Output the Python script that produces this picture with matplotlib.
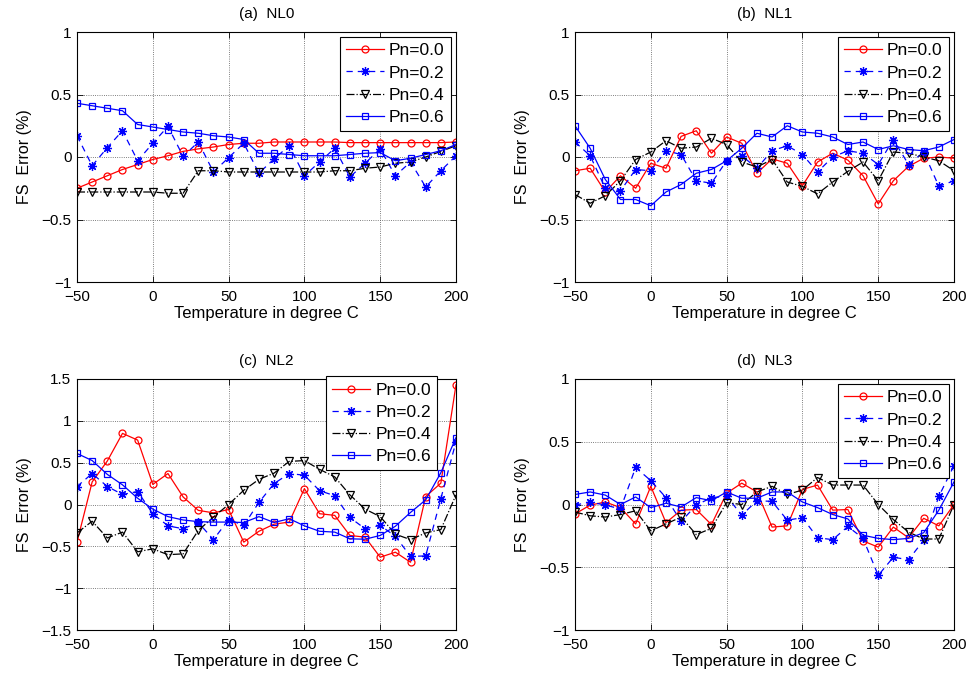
import matplotlib
matplotlib.use("Agg")
import matplotlib.pyplot as plt

plt.rcParams['font.family'] = ['Liberation Sans', 'DejaVu Sans']

# temperature axis
temp = list(range(-50, 201, 10))
labels = ['Pn=0.0', 'Pn=0.2', 'Pn=0.4', 'Pn=0.6']

# (a) NL0
nl0_p00 = [-0.25, -0.20, -0.15, -0.10, -0.06, -0.02, 0.01, 0.045, 0.065, 0.08, 0.10, 0.11, 0.11,
           0.12, 0.12, 0.12, 0.12, 0.12, 0.115, 0.115, 0.115, 0.115, 0.115, 0.115, 0.115, 0.12]
nl0_p02 = [0.17, -0.07, 0.075, 0.21, -0.03, 0.11, 0.245, 0.005, 0.12, -0.12, -0.005, 0.11, -0.13,
           -0.015, 0.09, -0.15, -0.04, 0.07, -0.16, -0.05, 0.065, -0.15, -0.04, -0.24, -0.11, 0.01]
nl0_p04 = [-0.28, -0.28, -0.28, -0.28, -0.28, -0.28, -0.29, -0.29, -0.11, -0.11, -0.12, -0.12, -0.12,
           -0.12, -0.12, -0.12, -0.12, -0.11, -0.11, -0.09, -0.08, -0.05, -0.04, 0.0, 0.045, 0.09]
nl0_p06 = [0.43, 0.41, 0.39, 0.37, 0.26, 0.24, 0.22, 0.20, 0.19, 0.17, 0.16, 0.14, 0.03,
           0.03, 0.02, 0.01, 0.01, 0.01, 0.02, 0.03, 0.035, -0.03, -0.01, 0.02, 0.05, 0.10]

# (b) NL1
nl1_p00 = [-0.11, -0.09, -0.28, -0.15, -0.25, -0.05, -0.09, 0.165, 0.21, 0.03, 0.16, 0.11, -0.13,
           -0.015, -0.05, -0.23, -0.04, 0.03, -0.025, -0.15, -0.375, -0.19, -0.075, -0.01, 0.0, -0.01]
nl1_p02 = [0.12, 0.01, -0.25, -0.27, -0.10, -0.11, 0.05, 0.02, -0.19, -0.21, -0.03, 0.01, -0.09,
           0.05, 0.09, 0.02, -0.12, 0.0, 0.05, 0.03, -0.06, 0.14, -0.06, 0.04, -0.235, -0.19]
nl1_p04 = [-0.30, -0.37, -0.31, -0.19, -0.02, 0.04, 0.13, 0.07, 0.08, 0.15, 0.10, -0.04, -0.08,
           -0.02, -0.20, -0.235, -0.295, -0.20, -0.115, -0.04, -0.19, 0.04, 0.03, 0.0, -0.03, -0.11]
nl1_p06 = [0.25, 0.07, -0.18, -0.34, -0.34, -0.39, -0.28, -0.22, -0.13, -0.10, -0.03, 0.07, 0.19,
           0.16, 0.25, 0.20, 0.19, 0.16, 0.10, 0.12, 0.06, 0.09, 0.06, 0.05, 0.08, 0.14]

# (c) NL2
nl2_p00 = [-0.45, 0.27, 0.52, 0.85, 0.77, 0.24, 0.37, 0.09, -0.07, -0.10, -0.06, -0.45, -0.32,
           -0.235, -0.21, 0.19, -0.11, -0.13, -0.37, -0.39, -0.63, -0.57, -0.69, 0.095, 0.255, 1.43]
nl2_p02 = [0.215, 0.37, 0.215, 0.12, 0.155, -0.11, -0.255, -0.29, -0.215, -0.42, -0.18, -0.25, 0.025,
           0.25, 0.37, 0.35, 0.165, 0.105, -0.155, -0.29, -0.25, -0.38, -0.62, -0.615, 0.07, 0.75]
nl2_p04 = [-0.34, -0.20, -0.40, -0.33, -0.565, -0.53, -0.60, -0.59, -0.31, -0.15, 0.0, 0.17, 0.30,
           0.375, 0.515, 0.525, 0.42, 0.33, 0.115, -0.055, -0.145, -0.355, -0.42, -0.34, -0.30, 0.115]
nl2_p06 = [0.61, 0.525, 0.36, 0.235, 0.075, -0.055, -0.145, -0.185, -0.205, -0.21, -0.21, -0.215, -0.145,
           -0.215, -0.17, -0.255, -0.32, -0.33, -0.41, -0.415, -0.37, -0.26, -0.095, 0.055, 0.38, 0.80]

# (d) NL3
nl3_p00 = [-0.075, -0.005, 0.02, -0.025, -0.155, 0.145, -0.145, -0.045, -0.04, -0.16, 0.09, 0.17, 0.10,
           -0.18, -0.17, 0.12, 0.155, -0.045, -0.04, -0.29, -0.34, -0.18, -0.265, -0.11, -0.17, 0.0]
nl3_p02 = [-0.005, 0.02, -0.005, -0.035, 0.295, 0.19, 0.055, -0.135, -0.005, 0.055, 0.065, -0.085, 0.03,
           0.025, -0.125, -0.105, -0.265, -0.28, -0.175, -0.27, -0.565, -0.42, -0.44, -0.285, 0.065, 0.31]
nl3_p04 = [-0.06, -0.09, -0.10, -0.08, -0.05, -0.21, -0.155, -0.10, -0.24, -0.19, 0.015, 0.0, 0.10,
           0.145, 0.08, 0.115, 0.215, 0.155, 0.155, 0.155, 0.0, -0.12, -0.22, -0.275, -0.275, 0.0]
nl3_p06 = [0.08, 0.10, 0.075, 0.0, 0.06, -0.025, 0.01, -0.02, 0.055, 0.03, 0.10, 0.05, 0.05,
           0.10, 0.10, 0.02, -0.025, -0.08, -0.115, -0.245, -0.27, -0.28, -0.27, -0.225, -0.045, 0.18]

panels = [
    ('(a)  NL0', [nl0_p00, nl0_p02, nl0_p04, nl0_p06], (-1, 1)),
    ('(b)  NL1', [nl1_p00, nl1_p02, nl1_p04, nl1_p06], (-1, 1)),
    ('(c)  NL2', [nl2_p00, nl2_p02, nl2_p04, nl2_p06], (-1.5, 1.5)),
    ('(d)  NL3', [nl3_p00, nl3_p02, nl3_p04, nl3_p06], (-1, 1)),
]

styles = [
    dict(color='red', linestyle='-', marker='o', markersize=5, markerfacecolor='none'),
    dict(color='blue', linestyle=(0, (5, 4)), marker=(8, 2, 0), markersize=6.5),
    dict(color='black', linestyle='-.', marker='v', markersize=5.5, markerfacecolor='none'),
    dict(color='blue', linestyle='-', marker='s', markersize=4.5, markerfacecolor='none'),
]

W, H = 976, 675
fig = plt.figure(figsize=(W / 100, H / 100), dpi=100)

# axes boxes in pixels: left, top, right, bottom
boxes = [(77, 32, 456, 282), (575, 32, 954, 282),
         (77, 379, 456, 630), (575, 379, 954, 630)]

for (title, series, ylim), (l, t, r, b), idx in zip(panels, boxes, range(4)):
    ax = fig.add_axes([l / W, 1 - b / H, (r - l) / W, (b - t) / H])
    for ys, st, lab in zip(series, styles, labels):
        ax.plot(temp, ys, label=lab, linewidth=0.9, markeredgewidth=0.9, **st)
    ax.set_xlim(-50, 200)
    ax.set_ylim(*ylim)
    ax.set_xticks(range(-50, 201, 50))
    if idx == 2:
        ax.set_yticks([-1.5, -1, -0.5, 0, 0.5, 1, 1.5])
        ax.set_yticklabels(['\u22121.5', '\u22121', '\u22120.5', '0', '0.5', '1', '1.5'])
    else:
        ax.set_yticks([-1, -0.5, 0, 0.5, 1])
        ax.set_yticklabels(['\u22121', '\u22120.5', '0', '0.5', '1'])
    ax.set_xticklabels(['\u221250', '0', '50', '100', '150', '200'])
    ax.tick_params(direction='in', top=True, right=True, labelsize=11, length=4, width=0.6)
    ax.tick_params(axis='x', pad=6)
    ax.tick_params(axis='y', pad=4)
    ax.grid(True, linestyle=':', color='#555555', linewidth=0.6)
    for sp in ax.spines.values():
        sp.set_linewidth(0.8)
    ax.set_title(title, fontsize=11, pad=10)
    ax.set_xlabel('Temperature in degree C', fontsize=12, labelpad=1)
    ax.set_ylabel('FS  Error (%)', fontsize=11.5, labelpad=7)
    if idx == 2:
        leg = ax.legend(loc='upper right', bbox_to_anchor=(0.95, 1.01), fontsize=12.5,
                        fancybox=False, edgecolor='black', framealpha=1, handlelength=2.2,
                        borderpad=0.35, labelspacing=0.4, handletextpad=0.3, borderaxespad=0)
    else:
        leg = ax.legend(loc='upper right', fontsize=12.5, fancybox=False, edgecolor='black',
                        framealpha=1, handlelength=2.2, borderpad=0.35, labelspacing=0.4,
                        handletextpad=0.3, borderaxespad=0.3)
    leg.get_frame().set_linewidth(0.8)

fig.savefig('out.png', dpi=100)
